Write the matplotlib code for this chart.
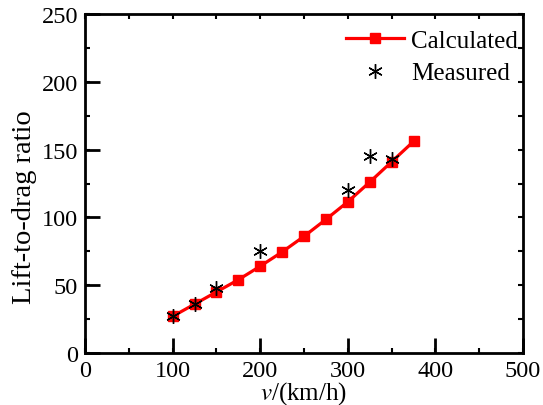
import numpy as np
import matplotlib.pyplot as plt
from matplotlib.ticker import MultipleLocator

# speed (km/h) and lift-to-drag ratio
v_calc = [100, 125, 150, 175, 200, 225, 250, 275, 300, 325, 350, 375]
ld_calc = [27, 36, 45, 54, 64, 74.5, 86, 98.5, 111.5, 126, 141, 156]

v_meas = [100, 125, 150, 200, 300, 325, 350]
ld_meas = [27, 36, 48, 75, 120, 145, 143]

plt.rcParams['font.family'] = ['Liberation Serif', 'DejaVu Serif']
plt.rcParams['mathtext.fontset'] = 'stix'
fs = 17.5

fig = plt.figure(figsize=(5.43, 4.06), dpi=100)
ax = fig.add_axes([85/543, 52/406, 438/543, 339/406])

ax.plot(v_calc, ld_calc, color='red', lw=2.3, marker='s', ms=7.5, label='Calculated')
ax.plot(v_meas, ld_meas, ls='none', color='black', marker=(6, 2, 0), ms=10.5, mew=1,
        label='Measured')

ax.set_xlim(0, 500)
ax.set_ylim(0, 250)
ax.xaxis.set_major_locator(MultipleLocator(100))
ax.xaxis.set_minor_locator(MultipleLocator(50))
ax.yaxis.set_major_locator(MultipleLocator(50))
ax.yaxis.set_minor_locator(MultipleLocator(25))
# keep minor ticks at major positions so the top/right spines get a full set
ax.xaxis.remove_overlapping_locs = False
ax.yaxis.remove_overlapping_locs = False

ax.tick_params(which='both', direction='in', labelsize=fs, pad=5)
ax.tick_params(which='major', length=11, width=2, top=False, right=False)
ax.tick_params(which='minor', length=3.5, width=1.5, top=True, right=True)
for s in ax.spines.values():
    s.set_linewidth(2)

ax.set_xlabel(r'$v$/(km/h)', fontsize=fs + 0.5, labelpad=-1)
ax.set_ylabel('Lift-to-drag ratio', fontsize=20.5)
ax.yaxis.set_label_coords(-0.11, 0.434)

ax.legend(loc='upper right', bbox_to_anchor=(1.02, 0.995), frameon=False,
          fontsize=fs + 0.5, handlelength=2.3, borderaxespad=0.15,
          labelspacing=0.4, handletextpad=0.3)

fig.savefig('out.png', dpi=100)
